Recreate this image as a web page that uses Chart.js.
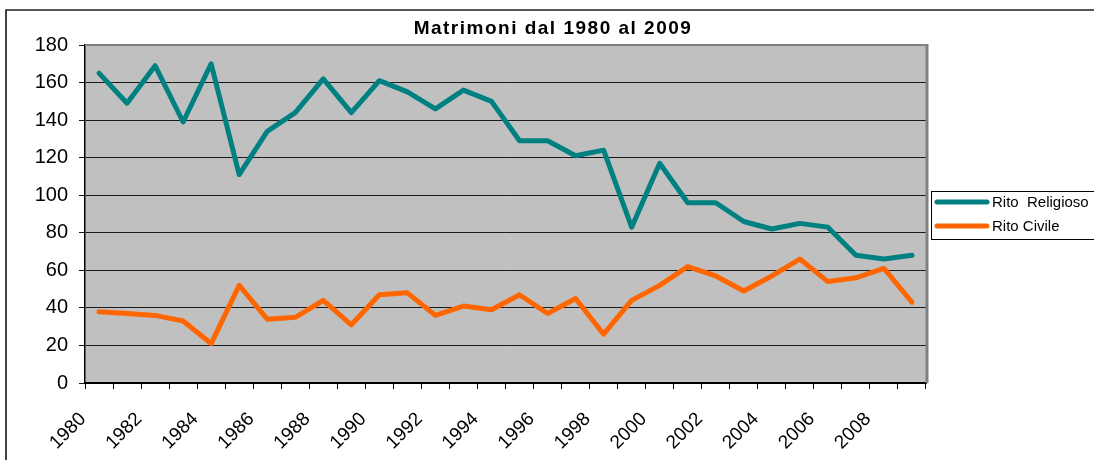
<!DOCTYPE html>
<html>
<head>
<meta charset="utf-8">
<script src="https://cdn.jsdelivr.net/npm/chart.js@4/dist/chart.umd.min.js"></script>
<style>
  body { margin: 0; background: #fff; }
  #wrap { width: 1094px; height: 460px; }
</style>
</head>
<body>
<div id="wrap"><canvas id="matrimoniChart"></canvas></div>
<script>
const chartTitle = 'Matrimoni dal 1980 al 2009';
const years = ['1980', '1981', '1982', '1983', '1984', '1985', '1986', '1987', '1988', '1989',
               '1990', '1991', '1992', '1993', '1994', '1995', '1996', '1997', '1998', '1999',
               '2000', '2001', '2002', '2003', '2004', '2005', '2006', '2007', '2008', '2009'];
const yearTicks = ['1980', '1982', '1984', '1986', '1988', '1990', '1992', '1994',
                   '1996', '1998', '2000', '2002', '2004', '2006', '2008'];
const ritoReligioso = [165, 149, 169, 139, 170, 111, 134, 144, 162, 144,
                       161, 155, 146, 156, 150, 129, 129, 121, 124, 83,
                       117, 96, 96, 86, 82, 85, 83, 68, 66, 68];
const ritoCivile = [38, 37, 36, 33, 21, 52, 34, 35, 44, 31,
                    47, 48, 36, 41, 39, 47, 37, 45, 26, 44,
                    52, 62, 57, 49, 57, 66, 54, 56, 61, 43];

const fontFamily = "'Liberation Sans', Arial, sans-serif";

// grey plot area, outer frame, title and boxed legend
const excelLook = {
    id: 'excelLook',
    beforeDraw(chart) {
        const { ctx, chartArea: a } = chart;
        ctx.save();
        ctx.fillStyle = '#c0c0c0';
        ctx.fillRect(a.left, a.top, a.right - a.left, a.bottom - a.top);

        ctx.strokeStyle = '#222';
        ctx.lineWidth = 1.7;
        ctx.beginPath();
        ctx.moveTo(6, 460);
        ctx.lineTo(6, 10);
        ctx.lineTo(1094, 10);
        ctx.stroke();

        ctx.fillStyle = '#000';
        ctx.font = 'bold 19px ' + fontFamily;
        ctx.letterSpacing = '1.5px';
        ctx.textAlign = 'center';
        ctx.textBaseline = 'alphabetic';
        ctx.fillText(chartTitle, 553, 34);
        ctx.restore();
    },
    beforeDatasetsDraw(chart) {
        const { ctx, chartArea: a } = chart;
        ctx.save();
        ctx.strokeStyle = '#808080';
        ctx.lineWidth = 2;
        ctx.beginPath();
        ctx.moveTo(a.left, a.top);
        ctx.lineTo(a.right + 1, a.top);
        ctx.stroke();
        ctx.lineWidth = 3;
        ctx.beginPath();
        ctx.moveTo(a.right + 1, a.top - 1);
        ctx.lineTo(a.right + 1, a.bottom);
        ctx.stroke();
        ctx.restore();
    },
    afterDraw(chart) {
        const { ctx } = chart;
        ctx.save();
        ctx.strokeStyle = '#000';
        ctx.lineWidth = 1;
        ctx.strokeRect(931.5, 191.5, 180, 48);
        ctx.font = '15px ' + fontFamily;
        ctx.textBaseline = 'middle';
        ctx.fillStyle = '#000';
        chart.data.datasets.forEach((ds, i) => {
            const y = 202 + i * 24;
            ctx.strokeStyle = ds.borderColor;
            ctx.lineWidth = 5;
            ctx.lineCap = 'round';
            ctx.beginPath();
            ctx.moveTo(937, y);
            ctx.lineTo(987, y);
            ctx.stroke();
            ctx.fillText(ds.label, 992, y + 1);
        });
        ctx.restore();
    }
};

const ctx = document.getElementById('matrimoniChart').getContext('2d');
new Chart(ctx, {
    type: 'line',
    data: {
        labels: years,
        datasets: [{
            label: 'Rito  Religioso',
            data: ritoReligioso,
            borderColor: '#008080',
            borderWidth: 5,
            borderJoinStyle: 'round',
            borderCapStyle: 'round',
            pointRadius: 0,
            tension: 0
        }, {
            label: 'Rito Civile',
            data: ritoCivile,
            borderColor: '#ff6600',
            borderWidth: 5,
            borderJoinStyle: 'round',
            borderCapStyle: 'round',
            pointRadius: 0,
            tension: 0
        }]
    },
    options: {
        responsive: true,
        maintainAspectRatio: false,
        animation: false,
        layout: { padding: { left: 6, right: 168, top: 45, bottom: 0 } },
        plugins: {
            legend: { display: false },
            title: { display: false },
            tooltip: { enabled: false }
        },
        scales: {
            x: {
                offset: true,
                afterFit: scale => { scale.height = 77; },
                grid: {
                    drawOnChartArea: false,
                    drawTicks: true,
                    tickLength: 6,
                    color: '#000',
                    offset: true
                },
                border: { color: '#000', width: 2 },
                ticks: {
                    autoSkip: false,
                    minRotation: 45,
                    maxRotation: 45,
                    labelOffset: -16,
                    padding: 19,
                    color: '#000',
                    font: { family: fontFamily, size: 19 },
                    callback: function(value, index) {
                        const y = years[index];
                        return yearTicks.includes(y) ? y : '';
                    }
                }
            },
            y: {
                min: 0,
                max: 180,
                afterFit: scale => { scale.width = 79; },
                grid: {
                    color: '#1a1a1a',
                    lineWidth: 1,
                    tickLength: 6
                },
                border: { color: '#000', width: 1.5 },
                ticks: {
                    stepSize: 20,
                    padding: 11,
                    color: '#000',
                    font: { family: fontFamily, size: 20 }
                }
            }
        }
    },
    plugins: [excelLook]
});
</script>
</body>
</html>
